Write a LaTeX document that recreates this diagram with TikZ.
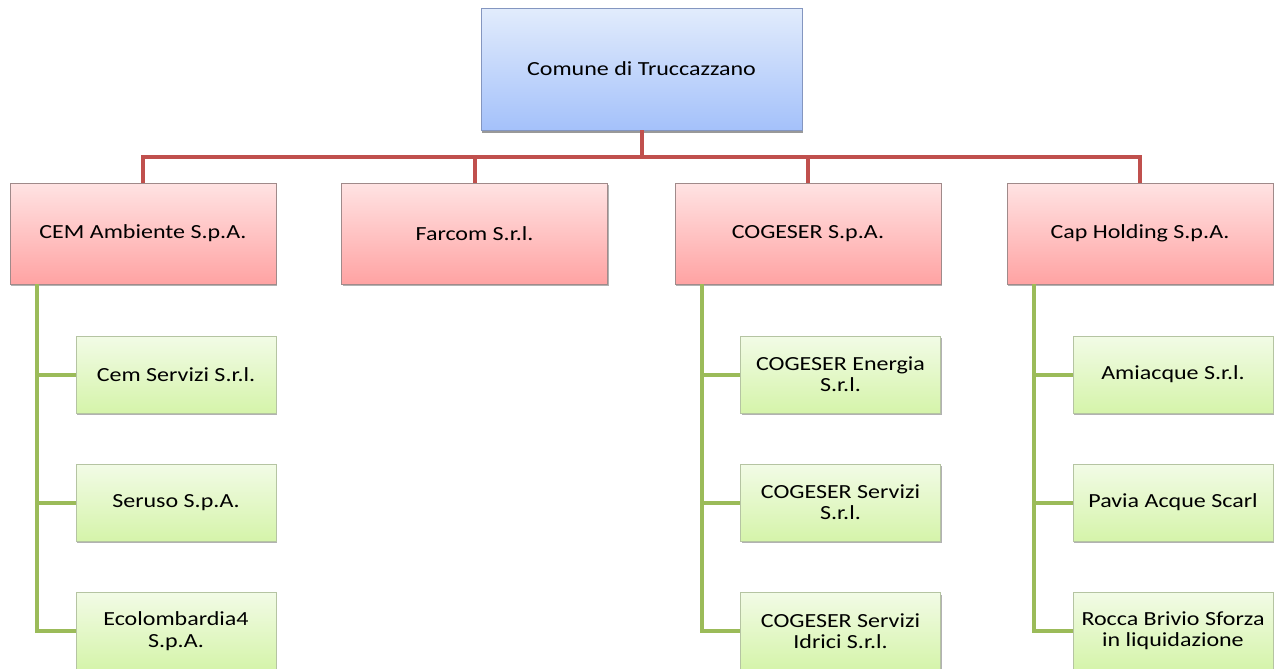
\documentclass[tikz,border=0pt]{standalone}
\usepackage{fontspec}
\setmainfont{Carlito}[FakeStretch=1.2]
\usetikzlibrary{shadows}
\definecolor{topup}{HTML}{E2ECFC}
\definecolor{topdown}{HTML}{A4C1FA}
\definecolor{topedge}{HTML}{8496C0}
\definecolor{redup}{HTML}{FFE3E3}
\definecolor{reddown}{HTML}{FFA3A3}
\definecolor{rededge}{HTML}{A08A8A}
\definecolor{greenup}{HTML}{F2FBE6}
\definecolor{greendown}{HTML}{D5F4AA}
\definecolor{greenedge}{HTML}{B5C4A2}
\definecolor{redwire}{HTML}{C0504D}
\definecolor{greenwire}{HTML}{9BBB59}

\begin{document}
\begin{tikzpicture}[x=0.75pt,y=-0.75pt,
	box/.style={rectangle,inner sep=2pt,align=center,font=\fontsize{15}{16}\selectfont,
		drop shadow={shadow xshift=0.8pt,shadow yshift=-1.5pt,fill=gray!60,opacity=1}},
	topbox/.style={box,draw=topedge,top color=topup,bottom color=topdown,
		minimum width=240.75pt,minimum height=91.5pt,
		drop shadow={shadow xshift=1pt,shadow yshift=-2.5pt,fill=gray!80,opacity=1}},
	firmbox/.style={box,draw=rededge,top color=redup,bottom color=reddown,
		minimum width=199.5pt,minimum height=75.75pt},
	subbox/.style={box,draw=greenedge,top color=greenup,bottom color=greendown,
		minimum width=150pt,minimum height=57.75pt},
	redline/.style={draw=redwire,line width=3pt},
	greenline/.style={draw=greenwire,line width=3pt}]
	\useasboundingbox (0,0) rectangle (1281,668);
	% top
	\node [topbox] (comune) at (641.5,69) {Comune di Truccazzano};
	% second level
	\node [firmbox] (cem) at (143,233.5) {CEM Ambiente S.p.A.};
	\node [firmbox] (farcom) at (474.5,233.5) {Farcom S.r.l.};
	\node [firmbox] (cogeser) at (808,233.5) {COGESER S.p.A.};
	\node [firmbox] (cap) at (1140,233.5) {Cap Holding S.p.A.};
	% third level
	\node [subbox] (cemA) at (176,374.5) {Cem Servizi S.r.l.};
	\node [subbox] (cemB) at (176,502.5) {Seruso S.p.A.};
	\node [subbox] (cemC) at (176,631) {Ecolombardia4\\S.p.A.};
	\node [subbox] (cogA) at (840.5,374.5) {COGESER Energia\\S.r.l.};
	\node [subbox] (cogB) at (840.5,502.5) {COGESER Servizi\\S.r.l.};
	\node [subbox] (cogC) at (840.5,631) {COGESER Servizi\\Idrici S.r.l.};
	\node [subbox] (capA) at (1173,374.5) {Amiacque S.r.l.};
	\node [subbox] (capB) at (1173,502.5) {Pavia Acque Scarl};
	\node [subbox] (capC) at (1173,631) {Rocca Brivio Sforza\\in liquidazione};
	% red connectors
	\coordinate (bus) at (641.5,157);
	\draw [redline] (comune.south) -- (bus);
	\draw [redline] (cem.north) |- (bus) -| (cap.north);
	\draw [redline] (farcom.north) -- (farcom.north |- bus);
	\draw [redline] (cogeser.north) -- (cogeser.north |- bus);
	% green connectors
	\draw [greenline] (cem.south west) ++(27,0) coordinate (cemtrunk) |- (cemC.west);
	\draw [greenline] (cemtrunk) |- (cemA.west) (cemtrunk) |- (cemB.west);
	\draw [greenline] (cogeser.south west) ++(27,0) coordinate (cogtrunk) |- (cogC.west);
	\draw [greenline] (cogtrunk) |- (cogA.west) (cogtrunk) |- (cogB.west);
	\draw [greenline] (cap.south west) ++(27,0) coordinate (captrunk) |- (capC.west);
	\draw [greenline] (captrunk) |- (capA.west) (captrunk) |- (capB.west);
\end{tikzpicture}
\end{document}
